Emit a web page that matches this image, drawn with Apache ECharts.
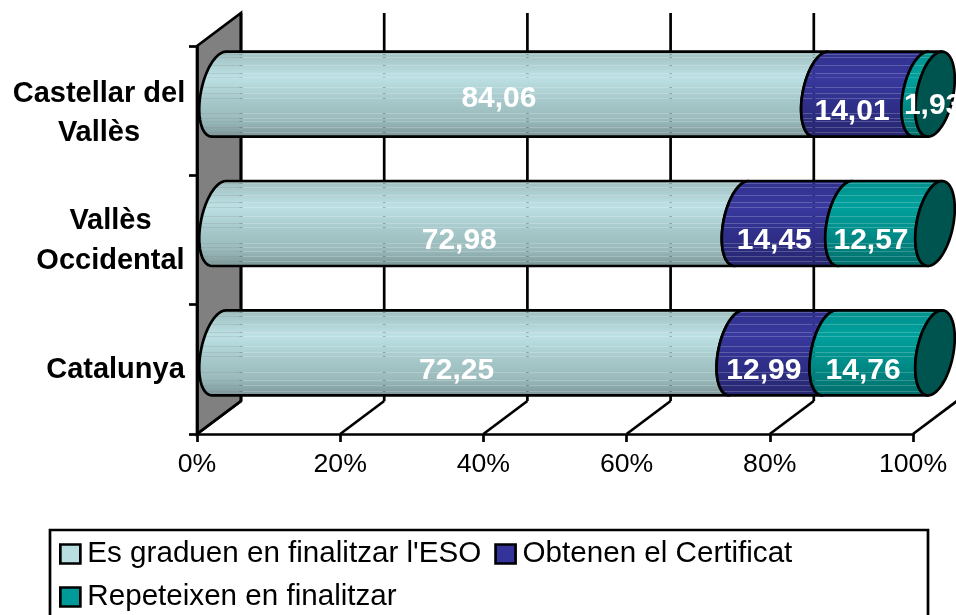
<!DOCTYPE html>
<html><head><meta charset="utf-8">
<style>html,body{margin:0;padding:0;background:#fff;overflow:hidden}#c{width:956px;height:615px}</style>
<script src="https://cdn.jsdelivr.net/npm/echarts@6/dist/echarts.min.js"></script>
</head><body><div id="c"></div>
<script>
// ---- data ----
const categories = ['Catalunya', 'Vallès\nOccidental', 'Castellar del\nVallès'];
const graduen = [72.25, 72.98, 84.06];
const certificat = [12.99, 14.45, 14.01];
const repeteixen = [14.76, 12.57, 1.93];
const labelsGraduen = ['72,25', '72,98', '84,06'];
const labelsCertificat = ['12,99', '14,45', '14,01'];
const labelsRepeteixen = ['14,76', '12,57', '1,93'];
const seriesNames = ["Es graduen en finalitzar l'ESO", 'Obtenen el Certificat', 'Repeteixen en finalitzar'];
const axisTicks = [0, 20, 40, 60, 80, 100];

// ---- styling ----
const FONT = '"Liberation Sans", Arial, sans-serif';
const LW = 2.7;
const DEPTH_X = 44, DEPTH_Y = -33;            // oblique depth of the 3D box
const RX = 18.5, SHEAR = 7, RY = 42.5;        // end ellipse of the cylinders
const GAPS = [.04,.08,.17,.26,.31,.42,.49,.54,.72,.77,.81,.87,.93];
const shades = [
  {stops: [[0,'#9dbcbd'],[.3,'#bde1e5'],[.55,'#a8cacc'],[.8,'#9abaBb'],[1,'#7b9496']]},
  {stops: [[0,'#2f2f8c'],[.3,'#39399f'],[.6,'#30308c'],[1,'#26266f']]},
  {stops: [[0,'#008f8c'],[.3,'#00a09c'],[.6,'#008e8a'],[1,'#006d6a']]}
];
const legendColors = ['#b9dee1', '#333399', '#009999'];
const CAP = '#00544f';
const LABEL_NUDGE = {'2-0': [0, -12.5], '2-2': [24, -6]};
const SERIES_NUDGE_X = [1, 3, 3];
const CATEGORY_PADDING = [[2, 0, 0, 0], [2, 0, 0, 0], [6, 0, 0, 0]];

function colourAt(stops, f) {
  for (let i = 1; i < stops.length; i++) {
    if (f <= stops[i][0]) {
      const a = stops[i-1], b = stops[i], t = (f - a[0]) / (b[0] - a[0]);
      const pa = parseInt(a[1].slice(1), 16), pb = parseInt(b[1].slice(1), 16);
      const mix = s => Math.round(((pa >> s) & 255) * (1-t) + ((pb >> s) & 255) * t);
      return [mix(16), mix(8), mix(0)];
    }
  }
  return [0,0,0];
}
function gradient(stops) {
  const cs = [];
  const add = (f, a) => { const c = colourAt(stops, f); cs.push({offset: f, color: `rgba(${c[0]},${c[1]},${c[2]},${a})`}); };
  add(0, 1);
  GAPS.forEach(g => { add(g - .0001, 1); add(g, .8); add(g + .011, .8); add(g + .0111, 1); });
  add(1, 1);
  return {type: 'linear', x: 0, y: 0, x2: 0, y2: 1, colorStops: cs};
}
function ellipsePts(cx, cy, from, to) {
  const pts = [], step = from < to ? 6 : -6;
  for (let d = from; step > 0 ? d <= to : d >= to; d += step) {
    const t = d * Math.PI / 180;
    pts.push([cx + RX * Math.cos(t) - SHEAR * Math.sin(t), cy + RY * Math.sin(t)]);
  }
  return pts;
}
const labelsOf = [labelsGraduen, labelsCertificat, labelsRepeteixen];
function segmentSeries(idx, values, starts) {
  return {
    type: 'custom', name: seriesNames[idx], coordinateSystem: 'cartesian2d',
    clip: false, silent: true,
    data: values.map((v, i) => [starts[i], i, v]),
    encode: {x: 0, y: 1},
    itemStyle: {color: legendColors[idx]},
    renderItem(params, api) {
      const s = api.value(0), c = api.value(1), v = api.value(2);
      const p0 = api.coord([s, c]), p1 = api.coord([s + v, c]);
      const cy = p0[1] + DEPTH_Y / 2;
      const xa = p0[0] + DEPTH_X / 2, xb = p1[0] + DEPTH_X / 2;
      const outline = ellipsePts(xa, cy, 90, 270).concat(ellipsePts(xb, cy, 270, 90));
      const children = [{
        type: 'polygon', shape: {points: outline},
        style: {fill: gradient(shades[idx].stops), stroke: '#000', lineWidth: LW, lineJoin: 'round'}
      }];
      if (idx === 2) {
        children.push({
          type: 'polygon', shape: {points: ellipsePts(xb, cy, 0, 354)},
          style: {fill: CAP, stroke: '#000', lineWidth: LW}
        });
      }
      const nudge = LABEL_NUDGE[params.dataIndex + '-' + idx] || [0, 0];
      const m = api.coord([s + v / 2, c]);
      children.push({
        type: 'text', z2: 100,
        x: m[0] + SERIES_NUDGE_X[idx] + nudge[0], y: m[1] + nudge[1] + 1,
        style: {text: labelsOf[idx][params.dataIndex], fill: '#fff', font: 'bold 30px ' + FONT, align: 'center', verticalAlign: 'middle'}
      });
      return {type: 'group', children};
    }
  };
}
const startsCert = graduen.slice();
const startsRep = graduen.map((g, i) => g + certificat[i]);
const zeros = graduen.map(() => 0);

const frameSeries = {
  type: 'custom', coordinateSystem: 'cartesian2d', clip: false, silent: true, z: 0,
  data: axisTicks.map(t => [t, 0]),
  encode: {x: 0, y: 1},
  renderItem(params, api) {
    const t = api.value(0);
    const top = api.coord([t, 2])[1] - 64.67, bot = api.coord([t, 0])[1] + 64.67;
    const x = api.coord([t, 0])[0];
    const line = {stroke: '#000', lineWidth: LW};
    const children = [];
    if (t === 0) {
      children.push({type: 'polygon', shape: {points: [[x, top], [x + DEPTH_X, top + DEPTH_Y], [x + DEPTH_X, bot + DEPTH_Y], [x, bot]]},
        style: {fill: '#808080', stroke: '#000', lineWidth: LW}});
    }
    children.push({type: 'line', shape: {x1: x, y1: bot, x2: x + DEPTH_X, y2: bot + DEPTH_Y}, style: line});
    if (t < 100) children.push({type: 'line', shape: {x1: x + DEPTH_X, y1: bot + DEPTH_Y, x2: x + DEPTH_X, y2: top + DEPTH_Y}, style: line});
    return {type: 'group', children};
  }
};

const catRich = w => ({width: w, align: 'center', fontWeight: 'bold', fontSize: 29, fontFamily: FONT, lineHeight: 39.5, color: '#000'});
const chart = echarts.init(document.getElementById('c'), null, {renderer: 'canvas'});
chart.setOption({
  animation: false,
  backgroundColor: '#fff',
  grid: {left: 197, top: 46, width: 716, height: 388, containLabel: false},
  xAxis: {
    type: 'value', min: 0, max: 100, interval: 20,
    axisLine: {show: true, lineStyle: {color: '#000', width: LW}},
    axisTick: {show: true, length: 8, lineStyle: {color: '#000', width: LW}},
    splitLine: {show: false},
    axisLabel: {formatter: '{value}%', color: '#000', fontSize: 26.67, fontFamily: FONT, margin: 17}
  },
  yAxis: {
    type: 'category',
    data: categories.map((c, i) => ({value: c, textStyle: {padding: CATEGORY_PADDING[i]}})),
    axisLine: {show: true, lineStyle: {color: '#000', width: LW}},
    axisTick: {show: true, length: 8, lineStyle: {color: '#000', width: LW}},
    axisLabel: {
      margin: 11, color: '#000',
      formatter: (v, i) => v.split('\n').map(l => `{c${i}|${l}}`).join('\n'),
      rich: {c0: catRich(141), c1: catRich(151), c2: catRich(174)}
    }
  },
  legend: {
    left: 54, top: 534, width: 860, itemWidth: 20, itemHeight: 19, itemGap: 13,
    selectedMode: false, icon: 'rect',
    textStyle: {color: '#000', fontSize: 29.6, fontFamily: FONT, padding: [0, 0, 0, 2], lineHeight: 29},
    data: seriesNames.map((n, i) => ({name: n, icon: 'rect',
      itemStyle: {color: legendColors[i], borderColor: '#000', borderWidth: LW}}))
  },
  graphic: [{
    type: 'rect', z: -1, silent: true,
    shape: {x: 50, y: 530, width: 878, height: 100},
    style: {fill: '#fff', stroke: '#000', lineWidth: LW}
  }],
  series: [
    frameSeries,
    segmentSeries(0, graduen, zeros),
    segmentSeries(1, certificat, startsCert),
    segmentSeries(2, repeteixen, startsRep)
  ]
});
</script></body></html>
